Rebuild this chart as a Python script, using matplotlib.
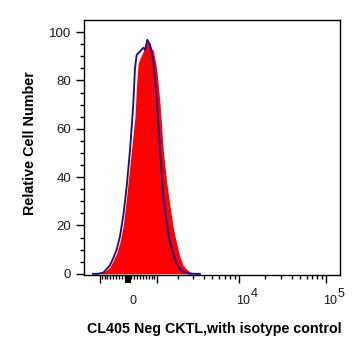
import numpy as np
import matplotlib
matplotlib.use("Agg")
import matplotlib.pyplot as plt
from matplotlib.transforms import offset_copy

plt.rcParams['font.family'] = ['Liberation Sans', 'DejaVu Sans']

# CL405 intensity (fluorescence units) for each histogram bin
intensity = [-1275, -1063, -855, -729, -611, -496, -381, -271, -162, -52,
             55, 162, 218, 274, 327, 384, 496, 555, 614, 635, 733, 806, 855,
             987, 1121, 1261, 1415, 1573, 1740, 1924, 2115, 2321, 2548, 2788,
             3045, 3333, 3634]
# CL405 Neg CKTL stained sample (red fill)
sample = [0.3, 0.5, 0.8, 1.5, 2.8, 5.5, 8.5, 13, 20, 32,
          45, 58, 65, 79, 87, 89, 92, 94.5, 95.5, 96, 94.8, 93, 92.5,
          85, 70.7, 51, 38, 28, 19, 12.5, 7, 3.4, 1.8, 0.8,
          0.5, 0.3, 0.2]
# isotype control (navy line)
isotype = [0, 0, 0.5, 2, 3.5, 6.5, 10, 15.5, 24, 36,
           51, 70, 85, 90.5, 91.3, 92, 93.5, 92.7, 95.5, 96.8, 94.8, 91, 88,
           73, 52, 32, 21, 13, 8.5, 4, 2, 0.8, 0.4, 0,
           0, 0, 0]

x_major = [-1000, 0, 1000, 1e4, 1e5]
x_minor = (list(range(-900, 0, 100)) + list(range(100, 1000, 100))
           + [k * 1e3 for k in range(2, 10)] + [k * 1e4 for k in range(2, 10)])
x_labels = {0: ("0", None), 1e4: ("10", "4"), 1e5: ("10", "5")}
y_major = [0, 20, 40, 60, 80, 100]
y_minor = [v for v in range(5, 105, 5) if v % 20]

# logicle-like display transform (display units are decades)
P = 1.5
C = 480.8


def logicle_inv(d):
    d = np.asarray(d, dtype=float)
    a = np.abs(d)
    g = 10 ** a + P ** 2 * (1 - 10 ** (-a / P)) - 1
    return C * np.sign(d) * g


d_grid = np.linspace(-1.5, 3.5, 20001)
s_grid = logicle_inv(d_grid)


def logicle_fwd(x):
    return np.interp(np.asarray(x, dtype=float), s_grid, d_grid)


fig = plt.figure(figsize=(3.61, 3.56), dpi=100)
ax = fig.add_axes([0.2327, 0.2275, 0.7091, 0.7163])
ax.set_xscale('function', functions=(logicle_fwd, logicle_inv))

ax.fill_between(intensity, sample, color='#ff0000', lw=0, zorder=2)
ax.plot(intensity, isotype, color='#14148f', lw=1.35, zorder=3)

ax.set_xlim(logicle_inv(-0.519), logicle_inv(2.482))
ax.set_ylim(-0.5, 105)

ax.set_xticks(x_major, labels=[''] * len(x_major))
ax.set_xticks(x_minor, minor=True)
ax.set_yticks(y_major)
ax.set_yticks(y_minor, minor=True)

ax.tick_params(axis='both', which='major', direction='out', length=5.5,
               width=1.0, color='black')
ax.tick_params(axis='both', which='minor', direction='out', length=3,
               width=1.0, color='black')
ax.tick_params(axis='y', labelsize=9.5, pad=3.8, labelcolor='#1a1a1a')
for t in ax.xaxis.get_major_ticks():
    if t.get_loc() == 0:
        t.tick1line.set_markeredgewidth(4.3)

for s in ax.spines.values():
    s.set_linewidth(1.0)
    s.set_color('black')

# tick labels with full-size superscripts
base = ax.get_xaxis_transform()
for loc, (txt, sup) in x_labels.items():
    if sup is None:
        ax.text(loc, 0, txt, fontsize=9, ha='center', va='baseline',
                color='#1a1a1a',
                transform=offset_copy(base, fig=fig, x=4.3, y=-29, units='dots'))
    else:
        ax.text(loc, 0, txt, fontsize=9, ha='left', va='baseline',
                color='#1a1a1a',
                transform=offset_copy(base, fig=fig, x=-2.8, y=-29, units='dots'))
        ax.text(loc, 0, sup, fontsize=9, ha='left', va='baseline',
                color='#1a1a1a',
                transform=offset_copy(base, fig=fig, x=11.8, y=-21.5, units='dots'))

ax.set_xlabel('CL405 Neg CKTL,with isotype control', fontsize=10.3,
              fontweight='bold', va='baseline')
ax.xaxis.set_label_coords(0.5105, -0.2275)
ax.set_ylabel('Relative Cell Number', fontsize=10.4, fontweight='bold',
              va='center')
ax.yaxis.set_label_coords(-0.211, 0.5176)

fig.savefig('out.png', dpi=100)
